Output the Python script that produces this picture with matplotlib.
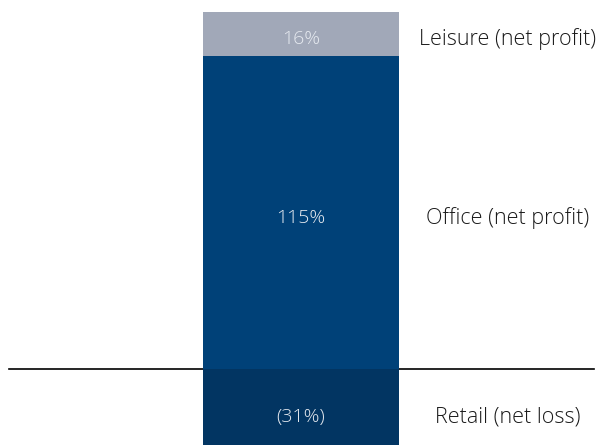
import matplotlib
matplotlib.use("Agg")
from matplotlib import pyplot as plt

# Segment data (stacked single bar)
segments = ["Retail (net loss)", "Office (net profit)", "Leisure (net profit)"]
values = [-31, 115, 16]
value_labels = ["(31%)", "115%", "16%"]
colors = ["#023562", "#004178", "#a1a8b8"]

plt.rcParams['font.family'] = ['Open Sans', 'DejaVu Sans']

fig = plt.figure(figsize=(6.02, 4.45), dpi=100)
ax = fig.add_axes([0, 0, 1, 1])

bottom_pos = 0
for name, val, lab, col in zip(segments, values, value_labels, colors):
    if val < 0:
        base = val
        height = -val
    else:
        base = bottom_pos
        height = val
        bottom_pos += val
    ax.bar(0, height, bottom=base, width=1.0, color=col, zorder=2)
    mid = base + height / 2 - 2
    ax.text(0, mid, lab, ha="center", va="center", color="#e6eaf0",
            fontsize=14, fontweight="light", zorder=3)
    ax.text(1.055, mid, name, ha="center", va="center", color="#1a1a1a",
            fontsize=15.5, fontweight="light")

# zero line behind the bar
ax.plot([-1.49, 1.495], [0, 0], color="black", linewidth=1.2, zorder=1)

ax.set_xlim(-1.536, 1.536)
ax.set_ylim(-27.9, 135.4)
ax.axis("off")

fig.savefig("out.png", dpi=100)
